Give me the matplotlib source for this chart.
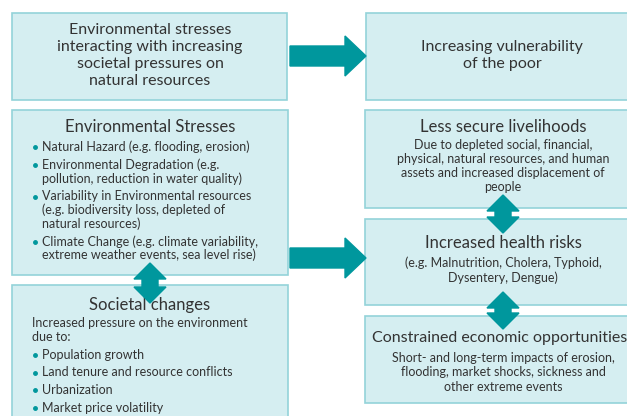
import matplotlib.pyplot as plt
from matplotlib.patches import Rectangle, Polygon

plt.rcParams['font.family'] = ['Lato', 'DejaVu Sans']

fill = '#d5eef1'
edge = '#94d3d9'
teal = '#00979d'
ink = '#333333'

# texts of the diagram
top_left = ["Environmental stresses", "interacting with increasing",
            "societal pressures on", "natural resources"]
top_right = ["Increasing vulnerability", "of the poor"]
env_title = "Environmental Stresses"
env_items = [["Natural Hazard (e.g. flooding, erosion)"],
             ["Environmental Degradation (e.g.", "pollution, reduction in water quality)"],
             ["Variability in Environmental resources", "(e.g. biodiversity loss, depleted of",
              "natural resources)"],
             ["Climate Change (e.g. climate variability,", "extreme weather events, sea level rise)"]]
soc_title = "Societal changes"
soc_intro = ["Increased pressure on the environment", "due to:"]
soc_items = ["Population growth", "Land tenure and resource conflicts",
             "Urbanization", "Market price volatility"]
liv_title = "Less secure livelihoods"
liv_text = ["Due to depleted social, financial,", "physical, natural resources, and human",
            "assets and increased displacement of", "people"]
health_title = "Increased health risks"
health_text = ["(e.g. Malnutrition, Cholera, Typhoid,", "Dysentery, Dengue)"]
econ_title = "Constrained economic opportunities"
econ_text = ["Short- and long-term impacts of erosion,", "flooding, market shocks, sickness and",
             "other extreme events"]

fig = plt.figure(figsize=(6.27, 4.16), dpi=100)
ax = fig.add_axes([0, 0, 1, 1])
ax.set_xlim(0, 627)
ax.set_ylim(416, 0)
ax.axis('off')


def box(x0, y0, x1, y1):
    ax.add_patch(Rectangle((x0, y0), x1 - x0, y1 - y0, facecolor=fill,
                           edgecolor=edge, linewidth=1.2, zorder=1))


def lines(x, y0, step, txt, size, ha='center'):
    for i, t in enumerate(txt):
        ax.text(x, y0 + i * step, t, ha=ha, va='center', fontsize=size, color=ink, zorder=3)


def right_arrow(x0, x1, yc):
    pts = [(x0, yc - 10), (x1 - 21, yc - 10), (x1 - 21, yc - 20), (x1, yc),
           (x1 - 21, yc + 20), (x1 - 21, yc + 10), (x0, yc + 10)]
    ax.add_patch(Polygon(pts, closed=True, color=teal, zorder=4))


def double_arrow(xc, y0, y1, hw=16, sw=8, hh=16):
    pts = [(xc, y0), (xc + hw, y0 + hh), (xc + sw, y0 + hh), (xc + sw, y1 - hh),
           (xc + hw, y1 - hh), (xc, y1), (xc - hw, y1 - hh), (xc - sw, y1 - hh),
           (xc - sw, y0 + hh), (xc - hw, y0 + hh)]
    ax.add_patch(Polygon(pts, closed=True, color=teal, zorder=4))


# boxes
box(12, 13, 287, 100)
box(366, 13, 640, 100)
box(12, 110, 288, 275)
box(12, 285, 288, 430)
box(365, 110, 640, 208)
box(365, 219, 640, 305)
box(365, 316, 640, 403)

# arrows
right_arrow(290, 366, 56)
right_arrow(290, 366, 258)
double_arrow(150, 263, 303)
double_arrow(503, 195, 233)
double_arrow(503, 292, 329)

# text
lines(150, 30, 17, top_left, 11.5)
lines(502, 47, 17, top_right, 11.5)

lines(150, 127, 0, [env_title], 12)
y = 147
for item in env_items:
    ax.plot(35, y, 'o', color=teal, markersize=2.5, zorder=3)
    lines(42, y, 13.5, item, 9, ha='left')
    y += 13.5 * (len(item) - 1) + 18

lines(150, 305, 0, [soc_title], 12)
lines(32, 323, 14, soc_intro, 9, ha='left')
for i, t in enumerate(soc_items):
    yy = 355 + i * 17.5
    ax.plot(35, yy, 'o', color=teal, markersize=2.5, zorder=3)
    ax.text(42, yy, t, ha='left', va='center', fontsize=9, color=ink, zorder=3)

lines(503, 127, 0, [liv_title], 12)
lines(503, 145, 14, liv_text, 9)
lines(503, 243, 0, [health_title], 12)
lines(503, 263, 15, health_text, 9)
lines(500, 338, 0, [econ_title], 11.5)
lines(503, 358, 14.5, econ_text, 9)

fig.savefig('out.png', dpi=100)
